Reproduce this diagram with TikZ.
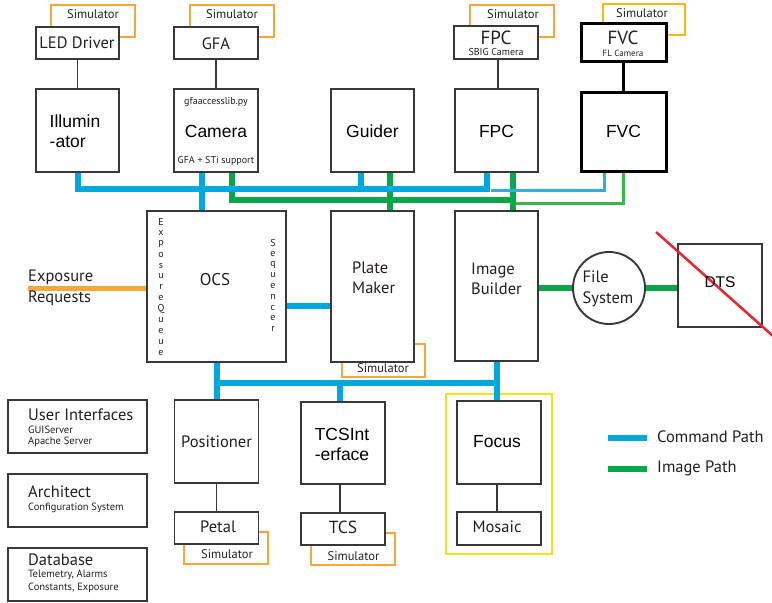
\documentclass[tikz,border=0pt]{standalone}
\usepackage{fontspec}
\setmainfont{Liberation Sans}
\newfontfamily\myr{PT Sans}
\usetikzlibrary{calc}
\definecolor{bx}{HTML}{38383A}
\definecolor{txt}{HTML}{231F20}
\definecolor{cmd}{HTML}{00A8DE}
\definecolor{cmdl}{HTML}{2EAEE4}
\definecolor{img}{HTML}{0AA64A}
\definecolor{imgl}{HTML}{3DB54F}
\definecolor{sim}{HTML}{F7A63A}
\definecolor{simy}{HTML}{F9B80F}
\definecolor{foc}{HTML}{F2E21A}
\definecolor{dtsred}{HTML}{E6252C}
\begin{document}
\begin{tikzpicture}[x=1pt,y=-1pt,
  box/.style={draw=bx, line width=1.9pt, fill=white, inner sep=0pt},
  thickbox/.style={box, draw=black, line width=3pt},
  simbox/.style={draw=sim, line width=2pt},
  link/.style={draw=bx, line width=1.9pt},
  cmdbus/.style={draw=cmd, line width=6pt},
  cmdthin/.style={draw=cmdl, line width=3pt},
  imgbus/.style={draw=img, line width=6pt},
  imgthin/.style={draw=imgl, line width=3pt},
  ar/.style={font=\fontsize{17.5}{20}\selectfont, text=black, inner sep=0pt},
  my/.style={font=\myr\fontsize{16.5}{20.5}\selectfont, text=txt, inner sep=0pt},
  big/.style={font=\myr\fontsize{19}{20}\selectfont, text=txt, inner sep=0pt},
  simtxt/.style={font=\myr\fontsize{12.5}{14}\selectfont, text=txt, inner sep=0pt},
  small/.style={font=\myr\fontsize{10.5}{12}\selectfont, text=txt, inner sep=0pt},
  vlet/.style={font=\myr\fontsize{10}{12}\selectfont, text=txt, inner sep=0pt},
]
\useasboundingbox (0,0) rectangle (772,603);

% ---------- simulator frames (behind) ----------
\draw[simbox] (51,5) rectangle (135,37);
\draw[simbox] (190,5) rectangle (274,37);
\draw[simbox] (470,5) rectangle (554,37);
\draw[simbox, draw=simy] (603,4) rectangle (685,35);
\draw[simbox] (342,344) rectangle (425,377);
\draw[simbox] (184,532) rectangle (268,564);
\draw[simbox] (311,533) rectangle (395,565);
\node[simtxt] (s1) at (93,14) {Simulator};
\node[simtxt] (s2) at (232,14) {Simulator};
\node[simtxt] (s3) at (513,14) {Simulator};
\node[simtxt] (s4) at (642,13) {Simulator};
\node[simtxt] (s5) at (383,368) {Simulator};
\node[simtxt] (s6) at (227,554) {Simulator};
\node[simtxt] (s7) at (353.5,556) {Simulator};

% ---------- focus group frame ----------
\node[draw=foc, line width=2.5pt, minimum width=106pt, minimum height=160pt, inner sep=0pt] (focgrp) at (499,474) {};

% ---------- boxes ----------
\node[box, minimum width=83pt, minimum height=32pt] (led) at (77.5,43) {};
\node[box, minimum width=84pt, minimum height=32pt] (gfa) at (216,43) {};
\node[box, minimum width=84pt, minimum height=33pt] (fpct) at (496,42.5) {};
\node[thickbox, minimum width=85pt, minimum height=38pt] (fvct) at (623.5,42) {};

\node[box, minimum width=83pt, minimum height=83pt] (illum) at (77.5,130.5) {};
\node[box, minimum width=84pt, minimum height=83pt] (cam) at (216,130.5) {};
\node[box, minimum width=83pt, minimum height=83pt] (guider) at (372.5,130.5) {};
\node[box, minimum width=83pt, minimum height=83pt] (fpc) at (496.5,130.5) {};
\node[thickbox, minimum width=85pt, minimum height=79pt] (fvc) at (623.5,131.5) {};

\node[box, minimum width=139pt, minimum height=151pt] (ocs) at (216.5,286.5) {};
\node[box, minimum width=83pt, minimum height=151pt] (plate) at (372.5,286.5) {};
\node[box, minimum width=83pt, minimum height=150pt] (ib) at (496.5,286) {};
\node[draw=bx, line width=1.9pt, circle, minimum size=72pt, inner sep=0pt] (fs) at (609,288) {};
\node[box, minimum width=84pt, minimum height=83pt] (dts) at (720,285.5) {};

\node[box, minimum width=84pt, minimum height=83pt] (pos) at (216.5,441.5) {};
\node[box, minimum width=84pt, minimum height=32pt] (petal) at (216.5,528) {};
\node[box, minimum width=84pt, minimum height=82pt] (tcsi) at (343,443) {};
\node[box, minimum width=84pt, minimum height=32pt] (tcs) at (343,529) {};
\node[box, minimum width=84pt, minimum height=83pt] (focus) at (499,442.5) {};
\node[box, minimum width=84pt, minimum height=33pt] (mosaic) at (499,528.5) {};

\node[box, minimum width=139pt, minimum height=53pt] (ui) at (77.5,426.5) {};
\node[box, minimum width=139pt, minimum height=53pt] (arch) at (77.5,500.5) {};
\node[box, minimum width=139pt, minimum height=53pt] (db) at (77.5,574.5) {};

% ---------- black links ----------
\draw[link] (led.south) -- (illum.north);
\draw[link] (gfa.south) -- (cam.north);
\draw[link] ($(fpct.south)+(2,0)$) -- ($(fpc.north)+(1.5,0)$);
\draw[link, draw=black, line width=3pt] (fvct.south) -- (fvc.north);
\draw[link] (pos.south) -- (petal.north);
\draw[link] ($(tcsi.south)+(-3,0)$) -- ($(tcs.north)+(-3,0)$);
\draw[link] ($(focus.south)+(-2,0)$) -- ($(mosaic.north)+(-2,0)$);

% ---------- image path ----------
\draw[imgthin] ($(fpc.south)+(16.5,30.5)$) -| (fvc.south);
\draw[imgbus] ($(cam.south)+(16,0)$) |- ($(fpc.south)+(16.5,27.5)$);
\draw[imgbus] ($(guider.south)+(17.5,0)$) -- ($(plate.north)+(17.5,0)$);
\draw[imgbus] ($(fpc.south)+(16.5,0)$) -- ($(ib.north)+(16.5,0)$);
\draw[imgbus] (ib.east |- fs.west) -- (fs.west);
\draw[imgbus] (fs.east) -- (fs.east -| dts.west);

% ---------- command path ----------
\coordinate (tb) at (491,190);
\draw[cmdthin] (tb) -| ($(fvc.south)+(-19.5,0)$);
\draw[cmdbus] (illum.south) |- ($(fpc.south)+(-9.5,16.5)$) -- ($(fpc.south)+(-9.5,0)$);
\draw[cmdbus] ($(guider.south)+(-11.5,0)$) -- ++(0,17);
\draw[cmdbus] ($(cam.south)+(-14,0)$) -- ($(ocs.north)+(-14.5,0)$);
\draw[cmdbus] ($(ocs.east)+(0,19.5)$) -- ($(plate.west)+(0,19.5)$);
\draw[cmdbus] (ocs.south) -- (pos.north);
\draw[cmdbus] ($(ocs.south)+(0,20.5)$) -| (ib.south);
\draw[cmdbus] (ib.south) -- (ib.south |- focus.north);
\draw[cmdbus] ($(tcsi.north)+(-3,0)$) -- ++(0,-19);

% ---------- exposure requests ----------
\coordinate (er) at (28,288);
\draw[draw=sim, line width=5pt] (er) -- (er -| ocs.west);
\node[my, anchor=west] (er1) at (28,277) {Exposure};
\node[my, anchor=west] (er2) at (28,298) {Requests};

% ---------- DTS strike ----------
\draw[dtsred, line width=2.5pt] ($(dts.north west)+(-21,-11)$) -- ($(dts.south east)+(10,8)$);

% ---------- texts ----------
\node[my] (t-led) at (77,43) {LED Driver};
\node[my] (t-gfa) at (216,44) {GFA};
\node[big] (t-fpct) at (496,38) {FPC};
\node[small, font=\myr\fontsize{10}{12}\selectfont] (t-sbig) at (496,52) {SBIG Camera};
\node[big] (t-fvct) at (623,38) {FVC};
\node[small, font=\myr\fontsize{9}{12}\selectfont] (t-fl) at (623,53) {FL Camera};

\node[ar, align=left] (t-ill) at (75,131) {Illumin\\-ator};
\node[small, font=\myr\fontsize{10}{12}\selectfont] (t-gfal) at (216,102) {gfaaccesslib.py};
\node[ar] (t-cam) at (216,131) {Camera};
\node[small, font=\myr\fontsize{10}{12}\selectfont] (t-sup) at (216,161) {GFA + STi support};
\node[ar] (t-gui) at (372.5,131) {Guider};
\node[ar] (t-fpc) at (496.5,131) {FPC};
\node[ar] (t-fvc) at (623.5,131) {FVC};

\node[my, font=\myr\fontsize{17}{20}\selectfont] (t-ocs) at (215,280) {OCS};
\foreach \c [count=\i] in {E,x,p,o,s,u,r,e,Q,u,e,u,e}
  \node[vlet] (eq\i) at (161,{222+(\i-1)*10.9}) {\c};
\foreach \c [count=\i] in {S,e,q,u,e,n,c,e,r}
  \node[vlet] (sq\i) at (273,{243+(\i-1)*10.75}) {\c};
\node[my, align=left, anchor=west] (t-plate) at (352,278) {Plate\\Maker};
\node[my, align=left, anchor=west] (t-ib) at (471,279) {Image\\Builder};
\node[my, align=left] (t-fs) at (608,289) {File\\System};
\node[ar, font=\fontsize{15.5}{18}\selectfont] (t-dts) at (720,282) {DTS};

\node[my] (t-pos) at (216.5,442) {Positioner};
\node[my] (t-petal) at (218,527) {Petal};
\node[ar, align=left] (t-tcsi) at (342,444) {TCSInt\\-erface};
\node[my, font=\myr\fontsize{17.5}{20}\selectfont] (t-tcs) at (343,527) {TCS};
\node[ar] (t-focus) at (497,442) {Focus};
\node[my] (t-mosaic) at (497,527) {Mosaic};

\node[my, anchor=west] (t-ui) at (28,415) {User Interfaces};
\node[small, anchor=west] (t-ui1) at (28,430) {GUIServer};
\node[small, anchor=west] (t-ui2) at (28,442) {Apache Server};
\node[my, anchor=west] (t-arch) at (28,492) {Architect};
\node[small, anchor=west] (t-arch1) at (28,507.5) {Configuration System};
\node[my, anchor=west] (t-db) at (28,559.5) {Database};
\node[small, anchor=west] (t-db1) at (28,574.5) {Telemetry, Alarms};
\node[small, anchor=west] (t-db2) at (28,588) {Constants, Exposure};

% ---------- legend ----------
\coordinate (lg1) at (608,438);
\coordinate (lg2) at (608,469);
\draw[cmdbus] (lg1) -- ++(39,0);
\draw[imgbus] (lg2) -- ++(39,0);
\node[my, anchor=west] (t-lg1) at (657,437) {Command Path};
\node[my, anchor=west] (t-lg2) at (657,468) {Image Path};
\end{tikzpicture}
\end{document}
